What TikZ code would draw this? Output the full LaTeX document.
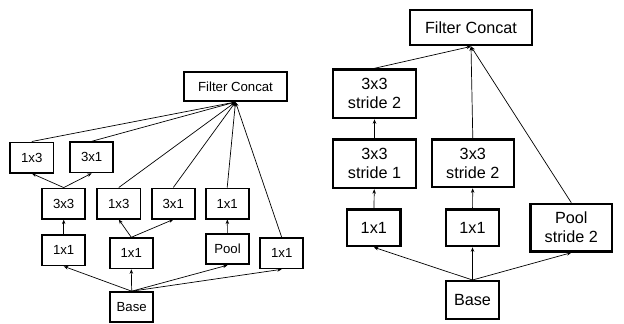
\documentclass[tikz,border=0pt]{standalone}
\usepackage{fontspec}
\setmainfont{Liberation Sans}
\usetikzlibrary{arrows.meta}
\begin{document}
\begin{tikzpicture}[x=1pt,y=-1pt,
  lbox/.style={draw, line width=1.8pt, inner sep=0pt, minimum width=43.2pt, minimum height=30.2pt, font=\fontsize{13.2}{15}\selectfont},
  rbox/.style={draw, line width=2.4pt, inner sep=0pt, align=center, font=\fontsize{16.2}{19}\selectfont},
  conn/.style={line width=0.7pt, -{Stealth[length=4.5pt,width=3.5pt]}}]
\useasboundingbox (0,0) rectangle (624,324);
% ---------- left diagram ----------
\node[lbox, line width=1.6pt, minimum width=103.4pt, minimum height=29.4pt] (LFC) at (235.5,86.5) {Filter Concat};
\node[lbox] (L13a) at (31.8,157.5) {1x3};
\node[lbox] (L31a) at (91.7,157.3) {3x1};
\node[lbox] (L33)  at (63.7,203.6) {3x3};
\node[lbox] (L13b) at (118.8,203.5) {1x3};
\node[lbox] (L31b) at (173.3,203.5) {3x1};
\node[lbox] (L11p) at (227.2,203.5) {1x1};
\node[lbox] (L11a) at (63.7,250.3) {1x1};
\node[lbox] (L11b) at (131.3,253.3) {1x1};
\node[lbox] (LPool) at (227.5,249.2) {Pool};
\node[lbox] (L11c) at (281.7,253.3) {1x1};
\node[lbox] (LBase) at (131.7,307.2) {Base};
\foreach \t in {L11a,L11b,LPool,L11c} \draw[conn] (LBase.north) -- (\t.south);
\draw[conn] (L11a) -- (L33);
\draw[conn] (L33.north) -- (L13a.south);
\draw[conn] (L33.north) -- (L31a.south);
\draw[conn] (L11b.north) -- (L13b.south);
\draw[conn] (L11b.north) -- (L31b.south);
\draw[conn] (LPool) -- (L11p);
\foreach \s in {L13a,L31a,L13b,L31b,L11p,L11c} \draw[conn] (\s.north) -- (LFC.south);
% ---------- right diagram ----------
\node[rbox, minimum width=122.5pt, minimum height=35.5pt] (RFC) at (471,27.5) {Filter Concat};
\node[rbox, minimum width=83.2pt, minimum height=48.6pt] (R33a) at (374.5,93.8) {3x3\\stride 2};
\node[rbox, minimum width=83.2pt, minimum height=48.6pt] (R33b) at (374.5,163.7) {3x3\\stride 1};
\node[rbox, minimum width=82pt, minimum height=47.6pt] (R33c) at (472.8,163.3) {3x3\\stride 2};
\node[rbox, minimum width=53.3pt, minimum height=36.6pt] (R11a) at (373.8,227.8) {1x1};
\node[rbox, minimum width=52.6pt, minimum height=36.6pt] (R11b) at (472.5,227.8) {1x1};
\node[rbox, minimum width=81.6pt, minimum height=47.6pt] (RPool) at (571.3,227.7) {Pool\\stride 2};
\node[rbox, minimum width=52.6pt, minimum height=37.6pt] (RBase) at (472.5,300) {Base};
\foreach \t in {R11a,R11b,RPool} \draw[conn] (RBase.north) -- (\t.south);
\draw[conn] (R11a) -- (R33b);
\draw[conn] (R33b) -- (R33a);
\draw[conn] (R11b) -- (R33c);
\foreach \s in {R33a,R33c,RPool} \draw[conn] (\s.north) -- (RFC.south);
\end{tikzpicture}
\end{document}
